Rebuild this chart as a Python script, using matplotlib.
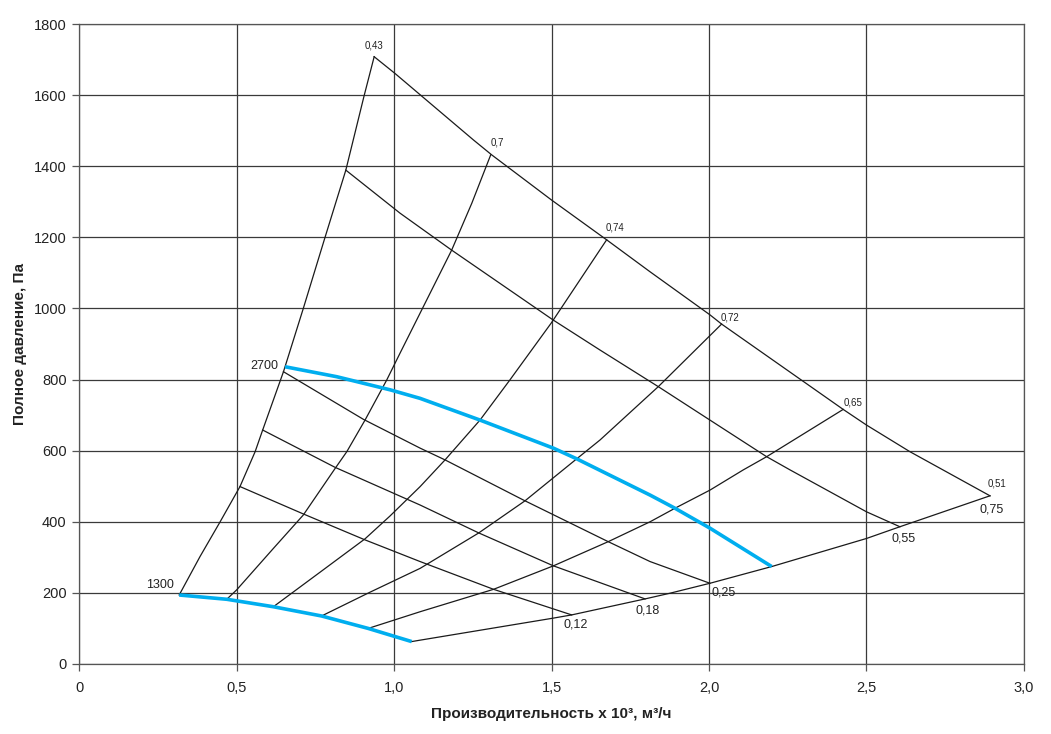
import matplotlib
matplotlib.use("Agg")
import matplotlib.pyplot as plt

plt.rcParams['font.family'] = ['Liberation Sans', 'DejaVu Sans']

# Efficiency lines (label at the upper end)
eff_labels = ["0,43", "0,7", "0,74", "0,72", "0,65", "0,51"]
eff_x = [
    [0.318, 0.384, 0.448, 0.511, 0.559, 0.583, 0.649, 0.654, 0.712, 0.781, 0.847, 0.905, 0.937],
    [0.469, 0.500, 0.617, 0.712, 0.813, 0.850, 0.908, 0.977, 1.019, 1.088, 1.183, 1.247, 1.307],
    [0.617, 0.765, 0.908, 0.987, 1.083, 1.162, 1.273, 1.368, 1.500, 1.675],
    [0.770, 0.924, 1.083, 1.268, 1.416, 1.580, 1.654, 1.839, 2.040],
    [0.918, 1.083, 1.316, 1.506, 1.680, 1.813, 1.892, 2.003, 2.109, 2.183, 2.426],
    [1.056, 1.083, 1.506, 1.564, 1.797, 1.876, 2.003, 2.199, 2.500, 2.606, 2.892],
]
eff_y = [
    [194, 302, 400, 499, 597, 658, 822, 836, 1000, 1200, 1389, 1598, 1708],
    [182, 208, 325, 419, 550, 597, 686, 799, 874, 996, 1164, 1296, 1432],
    [161, 258, 352, 416, 499, 574, 686, 799, 960, 1193],
    [135, 202, 269, 368, 459, 577, 630, 780, 956],
    [100, 147, 210, 276, 344, 400, 438, 489, 546, 583, 716],
    [63, 67, 129, 138, 183, 199, 227, 274, 353, 386, 473],
]
eff_offsets = [(0, 8.4), (4.5, 8.6), (6, 8.6), (6, 5), (7, 5), (5, 8.6)]

# Power curves (label at the lower right end)
pow_labels = ["0,75", "0,55", "0,25", "0,18", "0,12"]
pow_x = [
    [0.937, 1.003, 1.252, 1.310, 1.500, 1.675, 1.813, 2.003, 2.040, 2.426, 2.500, 2.638, 2.892],
    [0.847, 1.019, 1.183, 1.506, 1.654, 1.839, 2.003, 2.183, 2.257, 2.500, 2.606],
    [0.649, 0.903, 1.083, 1.162, 1.411, 1.680, 1.813, 2.003],
    [0.583, 0.813, 1.083, 1.268, 1.506, 1.797],
    [0.511, 0.712, 0.908, 1.083, 1.316, 1.564],
]
pow_y = [
    [1708, 1661, 1474, 1432, 1305, 1193, 1103, 982, 956, 716, 672, 597, 473],
    [1389, 1268, 1164, 967, 883, 780, 686, 583, 546, 428, 386],
    [822, 688, 607, 574, 461, 344, 288, 227],
    [658, 553, 447, 369, 276, 183],
    [499, 422, 349, 288, 210, 138],
]
pow_offsets = [(1.5, -10), (3, -8.6), (9.5, -6.5), (1.5, -8.6), (3, -7.2)]

# Speed curves (blue), label at the left end
rpm_labels = ["2700", "1300"]
rpm_x = [
    [0.654, 0.818, 0.988, 1.083, 1.273, 1.506, 1.580, 1.813, 1.892, 2.003, 2.199],
    [0.318, 0.469, 0.617, 0.770, 0.918, 1.056],
]
rpm_y = [
    [836, 808, 771, 747, 686, 607, 577, 475, 438, 382, 274],
    [194, 182, 161, 135, 100, 63],
]
rpm_offsets = [(-5, 0.7), (-3.6, 7.2)]

x_ticks = [0, 0.5, 1.0, 1.5, 2.0, 2.5, 3.0]
x_tick_labels = ["0", "0,5", "1,0", "1,5", "2,0", "2,5", "3,0"]
y_ticks = [0, 200, 400, 600, 800, 1000, 1200, 1400, 1600, 1800]

fig = plt.figure(figsize=(10.51, 7.34), dpi=100)
ax = fig.add_axes([0.0752, 0.0954, 0.8991, 0.8719])

ax.set_xlim(0, 3.0)
ax.set_ylim(0, 1800)
ax.set_xticks(x_ticks)
ax.set_xticklabels(x_tick_labels)
ax.set_yticks(y_ticks)
ax.grid(True, color='#3a3a3a', linewidth=0.9)
ax.set_axisbelow(True)
for s in ax.spines.values():
    s.set_color('#555555')
    s.set_linewidth(0.9)
ax.tick_params(axis='both', direction='out', length=5, width=0.9, color='#555555',
               labelsize=10.5, labelcolor='#222222')
ax.tick_params(axis='x', pad=7)
ax.tick_params(axis='y', pad=4)

for lab, xs, ys, off in zip(eff_labels, eff_x, eff_y, eff_offsets):
    ax.plot(xs, ys, color='#1a1a1a', linewidth=0.9, zorder=3)
    ax.annotate(lab, xy=(xs[-1], ys[-1]), xytext=off, textcoords='offset points',
                ha='center', va='center', fontsize=7, color='#222222', zorder=5)

for lab, xs, ys, off in zip(pow_labels, pow_x, pow_y, pow_offsets):
    ax.plot(xs, ys, color='#1a1a1a', linewidth=0.9, zorder=3)
    ax.annotate(lab, xy=(xs[-1], ys[-1]), xytext=off, textcoords='offset points',
                ha='center', va='center', fontsize=9, color='#222222', zorder=5)

for lab, xs, ys, off in zip(rpm_labels, rpm_x, rpm_y, rpm_offsets):
    ax.plot(xs, ys, color='#00AEEF', linewidth=2.6, zorder=4,
            solid_capstyle='butt', solid_joinstyle='round')
    ax.annotate(lab, xy=(xs[0], ys[0]), xytext=off, textcoords='offset points',
                ha='right', va='center', fontsize=9, color='#222222', zorder=5)

ax.set_xlabel("Производительность х 10³, м³/ч", fontsize=11, fontweight='bold',
              color='#222222', labelpad=9)
ax.set_ylabel("Полное давление, Па", fontsize=11, fontweight='bold',
              color='#222222', labelpad=5)

fig.savefig("out.png", dpi=100, facecolor='white')
